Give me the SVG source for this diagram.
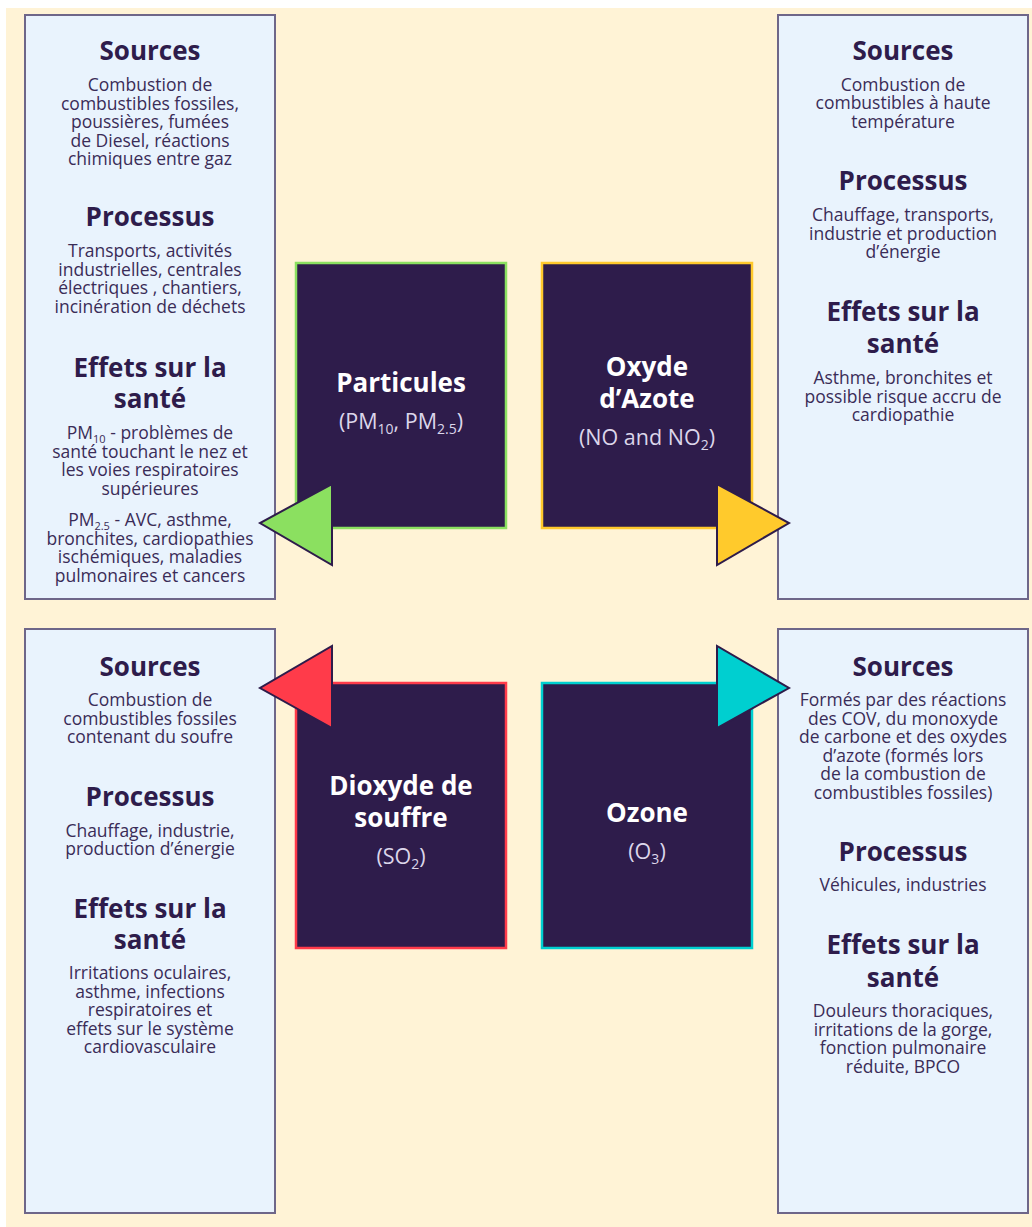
<svg xmlns="http://www.w3.org/2000/svg" width="1032" height="1227" viewBox="0 0 1032 1227">
  <defs>
    <style>
      .bg { fill: #FFF3D6; }
      .panel { fill: #E9F3FD; stroke: #6E6689; stroke-width: 2; }
      .box { fill: #2E1C4B; stroke-width: 2.5; }
      .tri { stroke: #2E1C4B; stroke-width: 2; stroke-linejoin: miter; }
      .h { font-family: "Open Sans", "Noto Sans", "Liberation Sans", sans-serif; font-weight: 700; font-size: 26px; fill: #2E1C4B; text-anchor: middle; }
      .b { font-family: "Open Sans", "Noto Sans", "Liberation Sans", sans-serif; font-size: 17.5px; fill: #3A2C57; text-anchor: middle; }
      .t { font-family: "Open Sans", "Noto Sans", "Liberation Sans", sans-serif; font-weight: 700; font-size: 26px; fill: #FFFFFF; text-anchor: middle; }
      .f { font-family: "Open Sans", "Noto Sans", "Liberation Sans", sans-serif; font-size: 21.5px; fill: #DCD6EA; text-anchor: middle; }
    </style>
  </defs>

  <rect x="0" y="0" width="1032" height="1227" fill="#FFFFFF"/>
  <rect class="bg" x="6" y="8" width="1026" height="1219"/>

  <!-- Particulate matter: info panel -->
  <g id="panel-particules">
    <rect class="panel" x="25" y="15" width="250" height="584"/>
    <text class="h" x="150" y="60">Sources</text>
    <text class="b" x="150" y="91">Combustion de<tspan x="150" dy="18.5">combustibles fossiles,</tspan><tspan x="150" dy="18.5">poussières, fumées</tspan><tspan x="150" dy="18.5">de Diesel, réactions</tspan><tspan x="150" dy="18.5">chimiques entre gaz</tspan></text>
    <text class="h" x="150" y="226">Processus</text>
    <text class="b" x="150" y="257">Transports, activités<tspan x="150" dy="18.7">industrielles, centrales</tspan><tspan x="150" dy="18.7">électriques , chantiers,</tspan><tspan x="150" dy="18.7">incinération de déchets</tspan></text>
    <text class="h" x="150" y="377">Effets sur la<tspan x="150" dy="31">santé</tspan></text>
    <text class="b" x="150" y="439">PM<tspan font-size="11" dy="4">10</tspan><tspan dy="-4"> - problèmes de</tspan><tspan x="150" dy="18.7">santé touchant le nez et</tspan><tspan x="150" dy="18.7">les voies respiratoires</tspan><tspan x="150" dy="18.7">supérieures</tspan></text>
    <text class="b" x="150" y="526">PM<tspan font-size="11" dy="4">2.5</tspan><tspan dy="-4"> - AVC, asthme,</tspan><tspan x="150" dy="18.7">bronchites, cardiopathies</tspan><tspan x="150" dy="18.7">ischémiques, maladies</tspan><tspan x="150" dy="18.7">pulmonaires et cancers</tspan></text>
  </g>

  <!-- Nitrogen oxides: info panel -->
  <g id="panel-azote">
    <rect class="panel" x="778" y="15" width="250" height="584"/>
    <text class="h" x="903" y="60">Sources</text>
    <text class="b" x="903" y="91">Combustion de<tspan x="903" dy="18.3">combustibles à haute</tspan><tspan x="903" dy="18.3">température</tspan></text>
    <text class="h" x="903" y="190">Processus</text>
    <text class="b" x="903" y="221">Chauffage, transports,<tspan x="903" dy="18.5">industrie et production</tspan><tspan x="903" dy="18.5">d’énergie</tspan></text>
    <text class="h" x="903" y="321">Effets sur la<tspan x="903" dy="32">santé</tspan></text>
    <text class="b" x="903" y="384">Asthme, bronchites et<tspan x="903" dy="18.5">possible risque accru de</tspan><tspan x="903" dy="18.5">cardiopathie</tspan></text>
  </g>

  <!-- Sulphur dioxide: info panel -->
  <g id="panel-soufre">
    <rect class="panel" x="25" y="629" width="250" height="584"/>
    <text class="h" x="150" y="676">Sources</text>
    <text class="b" x="150" y="706">Combustion de<tspan x="150" dy="18.5">combustibles fossiles</tspan><tspan x="150" dy="18.5">contenant du soufre</tspan></text>
    <text class="h" x="150" y="806">Processus</text>
    <text class="b" x="150" y="837">Chauffage, industrie,<tspan x="150" dy="18">production d’énergie</tspan></text>
    <text class="h" x="150" y="918">Effets sur la<tspan x="150" dy="31">santé</tspan></text>
    <text class="b" x="150" y="979">Irritations oculaires,<tspan x="150" dy="18.5">asthme, infections</tspan><tspan x="150" dy="18.5">respiratoires et</tspan><tspan x="150" dy="18.5">effets sur le système</tspan><tspan x="150" dy="18.5">cardiovasculaire</tspan></text>
  </g>

  <!-- Ozone: info panel -->
  <g id="panel-ozone">
    <rect class="panel" x="778" y="629" width="250" height="584"/>
    <text class="h" x="903" y="676">Sources</text>
    <text class="b" x="903" y="706">Formés par des réactions<tspan x="903" dy="18.6">des COV, du monoxyde</tspan><tspan x="903" dy="18.6">de carbone et des oxydes</tspan><tspan x="903" dy="18.6">d’azote (formés lors</tspan><tspan x="903" dy="18.6">de la combustion de</tspan><tspan x="903" dy="18.6">combustibles fossiles)</tspan></text>
    <text class="h" x="903" y="861">Processus</text>
    <text class="b" x="903" y="891">Véhicules, industries</text>
    <text class="h" x="903" y="954">Effets sur la<tspan x="903" dy="33">santé</tspan></text>
    <text class="b" x="903" y="1017">Douleurs thoraciques,<tspan x="903" dy="18.5">irritations de la gorge,</tspan><tspan x="903" dy="18.5">fonction pulmonaire</tspan><tspan x="903" dy="18.5">réduite, BPCO</tspan></text>
  </g>

  <!-- Pollutant boxes -->
  <g id="box-particules">
    <rect class="box" x="296" y="263" width="210" height="265" stroke="#8BE060"/>
    <text class="t" x="401" y="392">Particules</text>
    <text class="f" x="401" y="429">(PM<tspan font-size="14" dy="5">10</tspan><tspan dy="-5">, PM</tspan><tspan font-size="14" dy="5">2.5</tspan><tspan dy="-5">)</tspan></text>
  </g>
  <g id="box-azote">
    <rect class="box" x="542" y="263" width="210" height="265" stroke="#FFC92C"/>
    <text class="t" x="647" y="376">Oxyde<tspan x="647" dy="32">d’Azote</tspan></text>
    <text class="f" x="647" y="445">(NO and NO<tspan font-size="14" dy="5">2</tspan><tspan dy="-5">)</tspan></text>
  </g>
  <g id="box-soufre">
    <rect class="box" x="296" y="683" width="210" height="265" stroke="#FF3B4A"/>
    <text class="t" x="401" y="795">Dioxyde de<tspan x="401" dy="32">souffre</tspan></text>
    <text class="f" x="401" y="864">(SO<tspan font-size="14" dy="5">2</tspan><tspan dy="-5">)</tspan></text>
  </g>
  <g id="box-ozone">
    <rect class="box" x="542" y="683" width="210" height="265" stroke="#00CFD0"/>
    <text class="t" x="647" y="822">Ozone</text>
    <text class="f" x="647" y="859">(O<tspan font-size="14" dy="5">3</tspan><tspan dy="-5">)</tspan></text>
  </g>

  <!-- Pointers from each box to its panel -->
  <g id="connectors">
    <polygon class="tri" points="332,484 332,565 260,523" fill="#8BE060"/>
    <polygon class="tri" points="717,484 717,565 789,523" fill="#FFCA2C"/>
    <polygon class="tri" points="332,646 332,728 260,688" fill="#FF3B4A"/>
    <polygon class="tri" points="717,646 717,728 789,688" fill="#00CFD0"/>
  </g>
</svg>
